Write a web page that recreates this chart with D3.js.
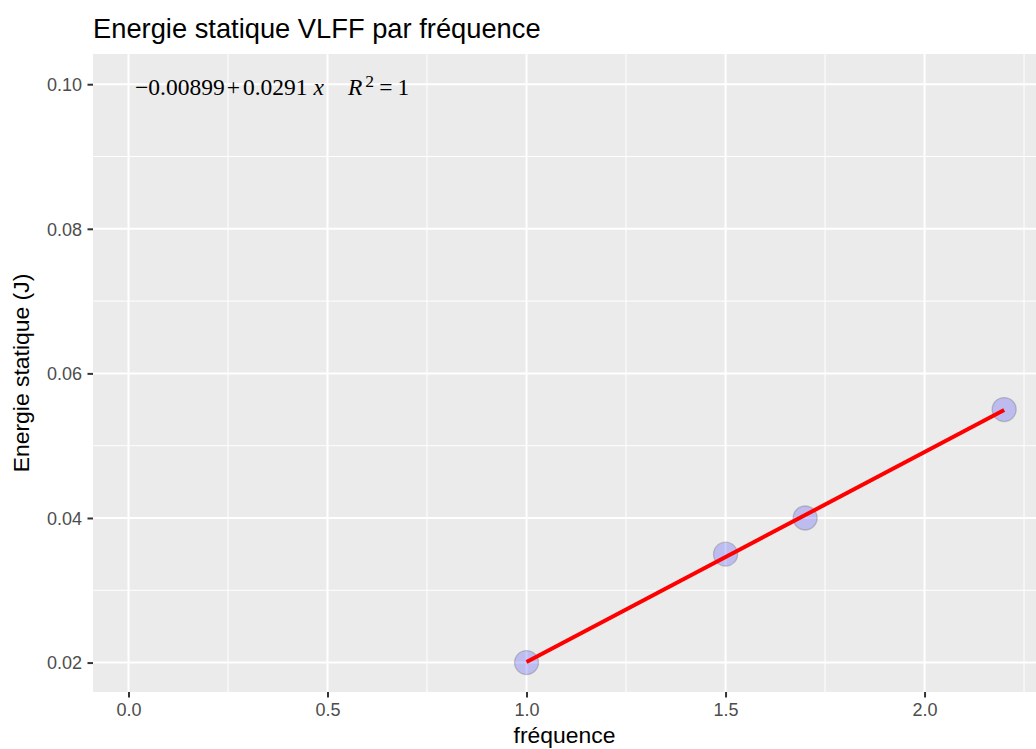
<!DOCTYPE html>
<html><head><meta charset="utf-8">
<script src="https://cdn.jsdelivr.net/npm/d3@7"></script>
<style>body{margin:0;background:#fff}svg{display:block}</style>
</head><body>
<svg id="c" width="1036" height="749"></svg>
<script>
const frequence = [1.0, 1.5, 1.7, 2.2];
const energie = [0.020, 0.035, 0.040, 0.055];
const xTicks = [0.0, 0.5, 1.0, 1.5, 2.0];
const yTicks = [0.02, 0.04, 0.06, 0.08, 0.10];
const xMinor = [0.25, 0.75, 1.25, 1.75, 2.25];
const yMinor = [0.03, 0.05, 0.07, 0.09];
const title = "Energie statique VLFF par fréquence";
const xTitle = "fréquence";
const yTitle = "Energie statique (J)";

const SANS = "Liberation Sans, Arial, sans-serif";
const SERIF = "Liberation Serif, Times New Roman, serif";
const svg = d3.select("#c");
const L = 93, R = 1036, T = 54, B = 692;
const x = d3.scaleLinear().domain([-0.0892, 2.280]).range([L, R]);
const y = d3.scaleLinear().domain([0.01593, 0.10418]).range([B, T]);

svg.append("rect").attr("x", L).attr("y", T).attr("width", R - L).attr("height", B - T).attr("fill", "#EBEBEB");
const g = svg.append("g");
g.selectAll(".xm").data(xMinor).join("line").attr("x1", d => x(d)).attr("x2", d => x(d)).attr("y1", T).attr("y2", B).attr("stroke", "#fff").attr("stroke-width", 1);
g.selectAll(".ym").data(yMinor).join("line").attr("y1", d => y(d)).attr("y2", d => y(d)).attr("x1", L).attr("x2", R).attr("stroke", "#fff").attr("stroke-width", 1);
g.selectAll(".xM").data(xTicks).join("line").attr("x1", d => x(d)).attr("x2", d => x(d)).attr("y1", T).attr("y2", B).attr("stroke", "#fff").attr("stroke-width", 2);
g.selectAll(".yM").data(yTicks).join("line").attr("y1", d => y(d)).attr("y2", d => y(d)).attr("x1", L).attr("x2", R).attr("stroke", "#fff").attr("stroke-width", 2);

// axes
const xa = svg.append("g").attr("transform", `translate(0,${B})`)
  .call(d3.axisBottom(x).tickValues(xTicks).tickFormat(d3.format(".1f")).tickSize(5.5).tickPadding(5.3));
const ya = svg.append("g").attr("transform", `translate(${L},0)`)
  .call(d3.axisLeft(y).tickValues(yTicks).tickFormat(d3.format(".2f")).tickSize(5.5).tickPadding(5.5));
[xa, ya].forEach(a => {
  a.select(".domain").remove();
  a.selectAll("line").attr("stroke", "#333").attr("stroke-width", 2);
  a.selectAll("text").attr("fill", "#4D4D4D").style("font-family", SANS).style("font-size", "18px");
});
ya.selectAll("text").attr("dy", "0.35em");

// regression line (least squares on the data)
const mx = d3.mean(frequence), my = d3.mean(energie);
const sxy = d3.sum(frequence.map((v, i) => (v - mx) * (energie[i] - my)));
const sxx = d3.sum(frequence.map(v => (v - mx) ** 2));
const slope = sxy / sxx, icpt = my - slope * mx;
const xr = d3.extent(frequence);

// points
svg.selectAll(".pt").data(frequence).join("circle")
  .attr("cx", d => x(d)).attr("cy", (d, i) => y(energie[i])).attr("r", 12)
  .attr("fill", "rgba(0,0,255,0.2)").attr("stroke", "rgba(110,110,110,0.35)").attr("stroke-width", 1.3);

svg.append("line").attr("x1", x(xr[0])).attr("y1", y(icpt + slope * xr[0]))
  .attr("x2", x(xr[1])).attr("y2", y(icpt + slope * xr[1]))
  .attr("stroke", "#FF0000").attr("stroke-width", 4);

// equation
const eq = svg.append("text").attr("x", 135).attr("y", 94.5)
  .style("font-family", SERIF).style("font-size", "23.5px").attr("fill", "#000");
eq.append("tspan").text("\u22120.00899");
eq.append("tspan").attr("dx", 2).text("+");
eq.append("tspan").attr("dx", 3).text("0.0291");
eq.append("tspan").attr("dx", 6).style("font-style", "italic").text("x");
eq.append("tspan").attr("dx", 24).style("font-style", "italic").text("R");
eq.append("tspan").attr("dx", 3).attr("dy", -8).style("font-size", "17.6px").text("2");
eq.append("tspan").attr("dx", 5).attr("dy", 8).text("=");
eq.append("tspan").attr("dx", 5).text("1");

// titles
svg.append("text").attr("x", L).attr("y", 37.5).text(title)
  .style("font-family", SANS).style("font-size", "27.3px").attr("fill", "#000");
svg.append("text").attr("x", (L + R) / 2).attr("y", 743).attr("text-anchor", "middle").text(xTitle)
  .style("font-family", SANS).style("font-size", "22.9px").attr("fill", "#000");
svg.append("text").attr("transform", `translate(29,${(T + B) / 2}) rotate(-90)`).attr("text-anchor", "middle").text(yTitle)
  .style("font-family", SANS).style("font-size", "22.9px").attr("fill", "#000");
</script>
</body></html>
